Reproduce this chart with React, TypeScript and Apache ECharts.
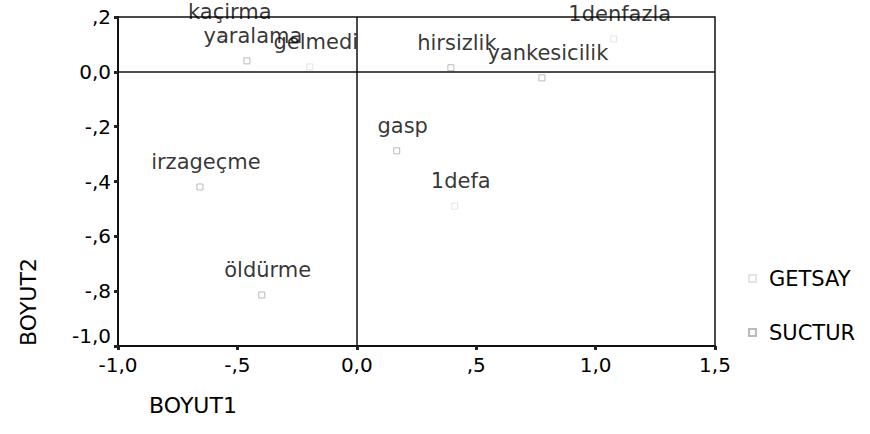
import React, { useEffect, useRef } from "react";
import * as echarts from "echarts";

// GETSAY category points
const getsayNames = ["gelmedi", "1defa", "1denfazla"];
const getsayX = [-0.197, 0.41, 1.076];
const getsayY = [0.018, -0.49, 0.12];

// SUCTUR category points
const suctorNames = ["kaçirma", "yaralama", "hirsizlik", "yankesicilik", "gasp", "irzageçme", "öldürme"];
const suctorX = [-0.557, -0.46, 0.394, 0.775, 0.167, -0.657, -0.398];
const suctorY = [0.128, 0.04, 0.015, -0.022, -0.288, -0.42, -0.814];

const xTicks = { min: -1, max: 1.5, interval: 0.5 };
const yTicks = { min: -1, max: 0.2, interval: 0.2 };

const FONT = "DejaVu Sans";
const INK = "#000000";

function fmt(v: number): string {
  let s = Math.abs(v).toFixed(1);
  if (Math.abs(v) < 1 && Math.abs(v) > 1e-9) s = s.replace(/^0/, "");
  s = s.replace(".", ",");
  return (v < -1e-9 ? "-" : "") + s;
}

function toData(names: string[], xs: number[], ys: number[]) {
  return names.map((n, i) => ({ name: n, value: [xs[i], ys[i]] }));
}

export default function App() {
  const ref = useRef<HTMLDivElement>(null);
  useEffect(() => {
    if (!ref.current) return;
    const chart = echarts.init(ref.current, undefined, { renderer: "svg" });
    const labelCfg = {
      show: true,
      position: "top",
      distance: 11,
      offset: [6, 0],
      formatter: (p: any) => p.name,
      fontFamily: FONT,
      fontSize: 21,
      color: INK,
    };
    chart.setOption({
      animation: false,
      backgroundColor: "#ffffff",
      grid: {
        left: 118,
        right: 155,
        top: 17,
        bottom: 88,
        show: true,
        borderColor: "#111",
        borderWidth: 1.5,
        backgroundColor: "transparent",
      },
      legend: {
        orient: "vertical",
        left: 743,
        top: 263,
        itemGap: 33,
        itemWidth: 7,
        itemHeight: 7,
        data: ["GETSAY", "SUCTUR"],
        textStyle: { fontFamily: FONT, fontSize: 21, color: INK, padding: [0, 0, 0, 8] },
      },
      xAxis: {
        type: "value",
        min: xTicks.min,
        max: xTicks.max,
        interval: xTicks.interval,
        splitLine: { show: false },
        axisLine: { show: true, onZero: false, lineStyle: { color: "#111", width: 2 } },
        axisTick: { show: true, length: 4, lineStyle: { color: "#222", width: 3 } },
        axisLabel: {
          formatter: fmt,
          fontFamily: FONT,
          fontSize: 20,
          color: INK,
          margin: 9,
        },
      },
      yAxis: {
        type: "value",
        min: yTicks.min,
        max: yTicks.max,
        interval: yTicks.interval,
        splitLine: { show: false },
        axisLine: { show: true, onZero: false, lineStyle: { color: "#111", width: 2 } },
        axisTick: { show: true, length: 4, lineStyle: { color: "#222", width: 3 } },
        axisLabel: {
          formatter: fmt,
          fontFamily: FONT,
          fontSize: 20,
          color: INK,
          margin: 7,
          verticalAlignMinLabel: "bottom",
        },
      },
      series: [
        {
          name: "GETSAY",
          type: "scatter",
          symbol: "rect",
          symbolSize: 6,
          itemStyle: { color: "#ffffff", borderColor: "#dddddd", borderWidth: 1 },
          label: labelCfg,
          data: toData(getsayNames, getsayX, getsayY),
          markLine: {
            silent: true,
            symbol: ["none", "none"],
            label: { show: false },
            lineStyle: { color: "#111", width: 1.5, type: "solid" },
            data: [{ xAxis: 0 }, { yAxis: 0 }],
          },
        },
        {
          name: "SUCTUR",
          type: "scatter",
          symbol: "rect",
          symbolSize: 6,
          itemStyle: { color: "#ffffff", borderColor: "#aaaaaa", borderWidth: 1 },
          label: labelCfg,
          data: toData(suctorNames, suctorX, suctorY),
        },
      ],
      graphic: [
        {
          type: "text",
          x: 28,
          y: 302,
          rotation: Math.PI / 2,
          style: {
            text: "BOYUT2",
            fontFamily: FONT,
            fontSize: 22,
            fill: INK,
            textAlign: "center",
            textVerticalAlign: "middle",
          },
        },
        {
          type: "text",
          x: 193,
          y: 405,
          style: {
            text: "BOYUT1",
            fontFamily: FONT,
            fontSize: 22,
            fill: INK,
            textAlign: "center",
            textVerticalAlign: "middle",
          },
        },
      ],
    });
    return () => chart.dispose();
  }, []);
  return (
    <div
      ref={ref}
      style={{ position: "fixed", left: 0, top: 0, width: 870, height: 434, background: "#fff" }}
    />
  );
}
